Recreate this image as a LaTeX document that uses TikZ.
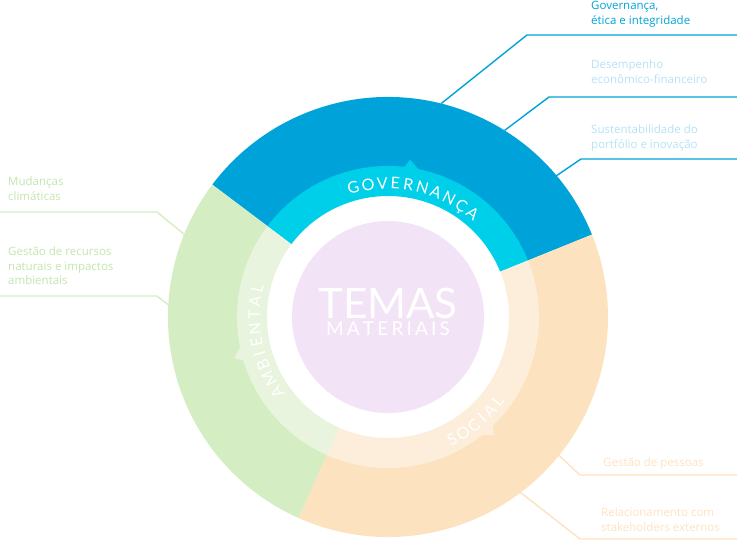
\documentclass[tikz,border=0pt]{standalone}
\usepackage{fontspec}
\setmainfont{Open Sans}
\newfontfamily\ringfont{Lato}
\usetikzlibrary{positioning, decorations.text}

\definecolor{govdark}{HTML}{00A3D9}
\definecolor{govlight}{HTML}{00CFE9}
\definecolor{govpale}{HTML}{B4E3F3}
\definecolor{socdark}{HTML}{FDE2BF}
\definecolor{soclight}{HTML}{FDEEDC}
\definecolor{ambdark}{HTML}{D5EDC2}
\definecolor{ambtext}{HTML}{C4E4B0}
\definecolor{amblight}{HTML}{E8F4DE}
\definecolor{centre}{HTML}{F2E4F6}

\tikzset{
  label/.style={font=\fontsize{11.5}{14.5}\selectfont, align=left, inner sep=0pt},
  leader/.style={line width=1.4pt},
  ringtext/.style={decorate, decoration={text effects along path, text align=center,
      text effects/.cd, text along path, character widths={inner xsep=3.4pt},
      characters={text=white, font=\ringfont\fontsize{16}{16}\selectfont}}}
}
% ring segment: colour, start angle, end angle, inner radius, outer radius
\newcommand\ringseg[5]{\fill[#1] (#2:#5) arc[start angle=#2, end angle=#3, radius=#5]
  -- (#3:#4) arc[start angle=#3, end angle=#2, radius=#4] -- cycle;}

\begin{document}
\begin{tikzpicture}[x=1pt, y=1pt]
  \useasboundingbox (0,0) rectangle (737,541);
  \coordinate (c) at (388,224);

  \begin{scope}[shift={(c)}]
    % outer ring
    \ringseg{govdark}{22}{143}{150}{220}
    \ringseg{socdark}{-114}{22}{150}{220}
    \ringseg{ambdark}{143}{246}{150}{220}
    % inner ring
    \ringseg{govlight}{22}{143}{121}{151}
    \ringseg{soclight}{-114}{22}{121}{151}
    \ringseg{amblight}{143}{246}{121}{151}
    % small tabs
    \fill[govlight] (78:150) -- (84:150) -- (82:159) -- cycle;
    \fill[amblight] (191:150) -- (197:150) -- (195:159) -- cycle;
    \fill[soclight] (-52:150) -- (-46:150) -- (-48:159) -- cycle;
    % centre
    \fill[centre] (0,0) circle[radius=96];
    \path[ringtext, decoration={text={GOVERNANÇA}}]
      (138:128) arc[start angle=138, end angle=18, radius=128];
    \path[ringtext, decoration={text={AMBIENTAL}}]
      (231:128) arc[start angle=231, end angle=151, radius=128];
    \path[ringtext, decoration={text={SOCIAL}}]
      (-80:144) arc[start angle=-80, end angle=-20, radius=144];
  \end{scope}

  \node (temas) at ([yshift=14]c) {\ringfont\fontsize{42}{42}\selectfont\color{white}TEMAS};
  \node (materiais) [below=-4 of temas] {\ringfont\fontsize{19}{19}\selectfont\color{white}M\,A\,T\,E\,R\,I\,A\,I\,S};

  % labels, right
  \node[label, text=govdark, anchor=north west] (gov) at (591,540) {Governança,\\ética e integridade};
  \node[label, text=govpale, anchor=north west] (des) at (591,481) {Desempenho\\econômico-financeiro};
  \node[label, text=govpale, anchor=north west] (sus) at (591,416) {Sustentabilidade do\\portfólio e inovação};
  \node[label, text=socdark, anchor=north west] (pes) at (603,83) {Gestão de pessoas};
  \node[label, text=socdark, anchor=north west] (rel) at (601,33) {Relacionamento com\\stakeholders externos};
  % labels, left
  \node[label, text=ambtext, anchor=north west] (mud) at (8,364) {Mudanças\\climáticas};
  \node[label, text=ambtext, anchor=north west] (rec) at (8,294) {Gestão de recursos\\naturais e impactos\\ambientais};

  % leader lines
  \coordinate (govend) at (737,506);
  \coordinate (desend) at (737,444);
  \coordinate (susend) at (737,382);
  \coordinate (pesend) at (737,66);
  \coordinate (relend) at (737,2);
  \coordinate (mudend) at (0,329);
  \coordinate (recend) at (0,245);
  \draw[leader, govdark] (c) ++(76:220) -- (527,506) -- (govend);
  \draw[leader, govdark] (c) ++(58:220) -- (549,444) -- (desend);
  \draw[leader, govdark] (c) ++(40:219) -- (581,382) -- (susend);
  \draw[leader, socdark] (c) ++(-39:219) -- (580,66) -- (pesend);
  \draw[leader, socdark] (c) ++(-53:219) -- (580,2) -- (relend);
  \draw[leader, ambdark] (c) ++(158:219) -- (157,329) -- (mudend);
  \draw[leader, ambdark] (c) ++(177:219) -- (157,245) -- (recend);
\end{tikzpicture}
\end{document}
